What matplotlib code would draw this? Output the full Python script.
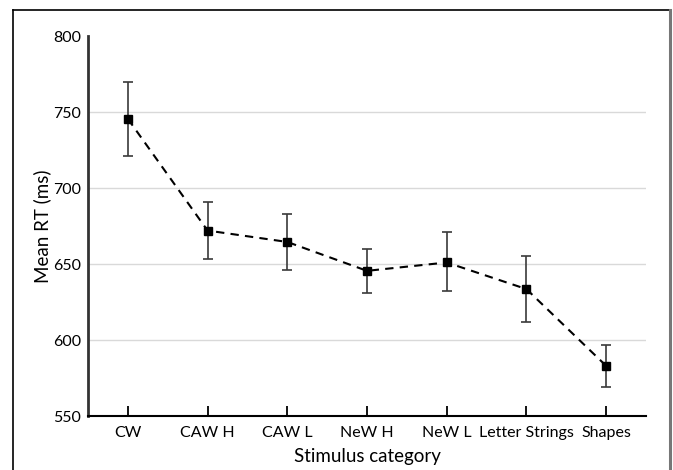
# Mean RT per stimulus category with error bars

import matplotlib.pyplot as plt
from matplotlib.lines import Line2D

categories = ['CW', 'CAW H', 'CAW L', 'NeW H', 'NeW L', 'Letter Strings', 'Shapes']
mean_rt = [745.5, 672, 664.5, 645.5, 651, 633.5, 583]
err_upper = [770, 691, 683, 660, 671, 655, 597]
err_lower = [721, 653, 646, 631, 632, 612, 569]
yticks = [550, 600, 650, 700, 750, 800]

plt.rcParams['font.family'] = ['Lato', 'DejaVu Sans']

fig = plt.figure(figsize=(6.73, 4.70), dpi=100)
ax = fig.add_axes([88/673, 1 - 416/470, (646 - 88)/673, 380/470])

x = list(range(len(categories)))
yerr = [[m - lo for m, lo in zip(mean_rt, err_lower)],
        [hi - m for m, hi in zip(mean_rt, err_upper)]]

ax.errorbar(x, mean_rt, yerr=yerr, fmt='none', ecolor='#3a3a3a',
            elinewidth=1.2, capsize=3.5, capthick=1.2, zorder=2)
ax.plot(x, mean_rt, linestyle=(0, (4, 3)), color='black', lw=1.5,
        marker='s', markersize=6, markerfacecolor='black', zorder=3)

ax.set_xlim(-0.5, len(categories) - 0.5)
ax.set_ylim(550, 800)
ax.set_xticks(x)
ax.set_xticklabels(categories, fontsize=11.5)
ax.set_yticks(yticks)
ax.set_yticklabels([str(v) for v in yticks], fontsize=11.5)
ax.tick_params(axis='x', direction='in', length=7, width=1.3, pad=7)
ax.tick_params(axis='y', length=0, pad=5)

# light horizontal gridlines (none at the top)
ax.yaxis.grid(True, color='#d9d9d9', lw=1)
ax.get_ygridlines()[-1].set_visible(False)
ax.set_axisbelow(True)

for s in ['top', 'right']:
    ax.spines[s].set_visible(False)
ax.spines['left'].set_color('#333333')
ax.spines['left'].set_linewidth(2)
ax.spines['bottom'].set_linewidth(1.5)

ax.set_xlabel('Stimulus category', fontsize=13.5, labelpad=6)
ax.set_ylabel('Mean RT (ms)', fontsize=13.5, labelpad=1)

# outer frame around the figure
fig.add_artist(Line2D([13/673, 13/673], [0, 1 - 10/470], color='black', lw=1.2, transform=fig.transFigure))
fig.add_artist(Line2D([13/673, 670/673], [1 - 10/470, 1 - 10/470], color='black', lw=1.2, transform=fig.transFigure))
fig.add_artist(Line2D([670/673, 670/673], [0, 1 - 10/470], color='#777777', lw=2.2, transform=fig.transFigure))

fig.savefig('out.png', dpi=100)
